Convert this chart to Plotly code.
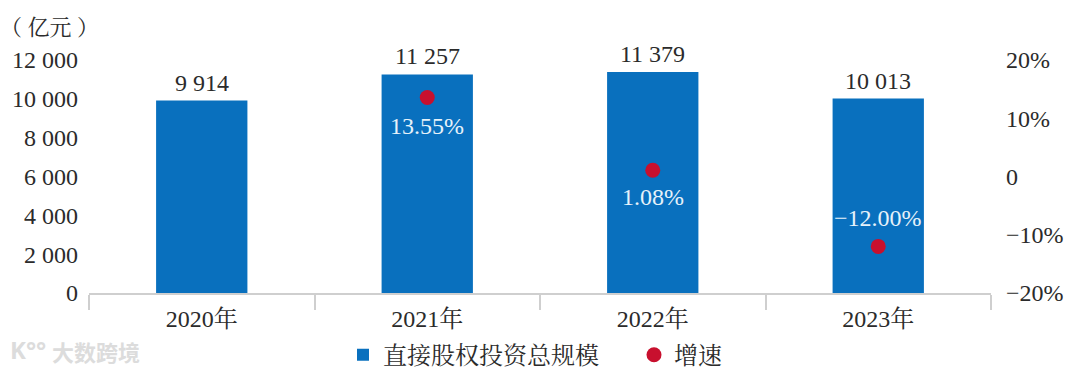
import plotly.graph_objects as go

categories = ["2020年", "2021年", "2022年", "2023年"]
scale_values = [9914, 11257, 11379, 10013]
scale_labels = ["9 914", "11 257", "11 379", "10 013"]
growth_values = [13.55, 1.08, -12.00]
growth_categories = ["2021年", "2022年", "2023年"]
growth_labels = ["13.55%", "1.08%", "−12.00%"]
growth_label_shifts = [-28, -27, 28]
left_ticks = [0, 2000, 4000, 6000, 8000, 10000, 12000]
left_labels = ["0", "2 000", "4 000", "6 000", "8 000", "10 000", "12 000"]
right_ticks = [-20, -10, 0, 10, 20]
right_labels = ["−20%", "−10%", "0", "10%", "20%"]

FONT = "Liberation Serif, Noto Serif CJK SC, Noto Sans CJK SC, serif"
TEXT = "#2b2b2b"
W, H = 1080, 372
L, R, T, B = 89, 991, 60, 293
SIZE = 24

fig = go.Figure()
fig.add_bar(
    x=categories, y=scale_values, name="直接股权投资总规模",
    marker=dict(color="#0970BE", line=dict(width=0)), width=0.405,
)
fig.add_scatter(
    x=growth_categories, y=growth_values, name="增速", yaxis="y2",
    mode="markers", marker=dict(color="#C8102E", size=15), cliponaxis=False,
)
fig.update_layout(
    width=W, height=H, margin=dict(l=L, r=W - R, t=T, b=H - B, autoexpand=False),
    paper_bgcolor="white", plot_bgcolor="white",
    font=dict(family=FONT, size=SIZE, color=TEXT), showlegend=True,
    legend=dict(orientation="h", x=(343 - L) / (R - L), xanchor="left", y=-0.17, yanchor="top",
                yref="paper", font=dict(size=SIZE, color=TEXT), itemwidth=30,
                entrywidth=246, entrywidthmode="pixels", traceorder="normal"),
    xaxis=dict(type="category", categoryorder="array", categoryarray=categories,
               tickson="boundaries", ticks="outside", ticklen=15, tickwidth=2,
               tickcolor="#CFCFCF", showline=True, linecolor="#CFCFCF", linewidth=2,
               showgrid=False, zeroline=False, tickfont=dict(size=SIZE, color=TEXT),
               range=[-0.5, 3.5], automargin=False, ticklabelstandoff=3),
    yaxis=dict(range=[0, 12000], tickvals=left_ticks, ticktext=left_labels,
               showgrid=False, zeroline=False, ticks="", showline=False,
               tickfont=dict(size=SIZE, color=TEXT), ticklabelstandoff=10, automargin=False),
    yaxis2=dict(range=[-20, 20], tickvals=right_ticks, ticktext=right_labels,
                overlaying="y", side="right", showgrid=False, zeroline=False,
                ticks="", showline=False, tickfont=dict(size=SIZE, color=TEXT),
                ticklabelstandoff=14, automargin=False),
)
notes = [
    dict(text="（ 亿元 ）", xref="paper", yref="paper",
         x=(49 - L) / (R - L), y=(B - 28) / (B - T), xanchor="center", yanchor="middle",
         showarrow=False, font=dict(size=22, color=TEXT)),
    dict(text="<b>大数跨境</b>", xref="paper", yref="paper",
         x=(96 - L) / (R - L), y=(B - 351) / (B - T), xanchor="center", yanchor="middle",
         showarrow=False, font=dict(size=22, color="#DCDCDC", family="Noto Sans CJK SC")),
    dict(text="<b>K°°</b>", xref="paper", yref="paper",
         x=(28 - L) / (R - L), y=(B - 349) / (B - T), xanchor="center", yanchor="middle",
         showarrow=False, font=dict(size=24, color="#DCDCDC", family="Noto Sans")),
]
for cat, val, label in zip(categories, scale_values, scale_labels):
    notes.append(dict(x=cat, y=val, xref="x", yref="y", text=label, showarrow=False,
                      yanchor="middle", yshift=18, font=dict(size=SIZE, color=TEXT)))
for cat, val, label, shift in zip(growth_categories, growth_values, growth_labels, growth_label_shifts):
    notes.append(dict(x=cat, y=val, xref="x", yref="y2", text=label, showarrow=False,
                      yanchor="middle", yshift=shift, font=dict(size=SIZE, color="#E6F2FA")))
fig.layout.annotations = notes
fig.write_html("out.html", post_script="document.body.style.margin='0';",
               config=dict(displayModeBar=False))
